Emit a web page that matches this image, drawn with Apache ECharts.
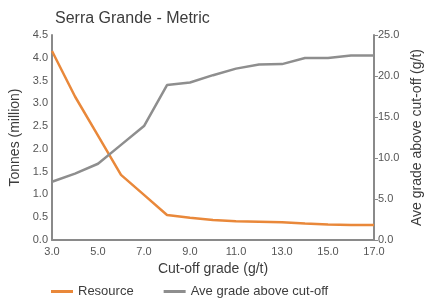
<!DOCTYPE html>
<html><head><meta charset="utf-8">
<script src="https://cdn.jsdelivr.net/npm/echarts@6/dist/echarts.min.js"></script>
<style>html,body{margin:0;padding:0;background:#fff}#c{width:425px;height:299px}</style>
</head><body><div id="c"></div>
<script>
var cutoff = ['3.0','4.0','5.0','6.0','7.0','8.0','9.0','10.0','11.0','12.0','13.0','14.0','15.0','16.0','17.0'];
var resource = [4.15, 3.15, 2.29, 1.43, 0.99, 0.55, 0.49, 0.44, 0.41, 0.40, 0.39, 0.36, 0.34, 0.33, 0.33];
var aveGrade = [7.1, 8.1, 9.3, 11.6, 13.9, 18.9, 19.2, 20.1, 20.9, 21.4, 21.45, 22.2, 22.2, 22.5, 22.5];
var leftTicks = {min: 0, max: 4.5, interval: 0.5};
var rightTicks = {min: 0, max: 25, interval: 5};

var font = 'Liberation Sans, Arial, Helvetica, sans-serif';
var chart = echarts.init(document.getElementById('c'), null, {renderer: 'canvas'});
chart.setOption({
  animation: false,
  textStyle: {fontFamily: font},
  title: {text: 'Serra Grande - Metric', left: 50, top: 6,
    textStyle: {fontFamily: font, fontSize: 16, fontWeight: 'normal', color: '#3c3c3c'}},
  grid: {left: 52, right: 51, top: 35, bottom: 59, containLabel: false, outerBoundsMode: 'none'},
  legend: {left: 46, top: 280, itemWidth: 22, itemHeight: 3, itemGap: 30, icon: 'rect',
    textStyle: {fontFamily: font, fontSize: 13, color: '#3c3c3c'},
    data: ['Resource', 'Ave grade above cut-off']},
  xAxis: {type: 'category', data: cutoff, boundaryGap: false,
    name: 'Cut-off grade (g/t)', nameLocation: 'middle', nameGap: 22,
    nameTextStyle: {fontFamily: font, fontSize: 14, color: '#3c3c3c'},
    axisLine: {lineStyle: {color: '#8a8a8a', width: 2}},
    axisTick: {show: false},
    axisLabel: {interval: 1, fontSize: 11, color: '#555', margin: 6, fontFamily: font},
    splitLine: {show: false}},
  yAxis: [
    {type: 'value', min: leftTicks.min, max: leftTicks.max, interval: leftTicks.interval,
      name: 'Tonnes (million)', nameLocation: 'middle', nameGap: 17,
      nameTextStyle: {fontFamily: font, fontSize: 14, color: '#3c3c3c'},
      axisLine: {show: true, lineStyle: {color: '#8a8a8a', width: 2}},
      axisTick: {show: false},
      axisLabel: {fontSize: 11, color: '#555', margin: 4, fontFamily: font,
        formatter: function (v) { return v.toFixed(1); }},
      splitLine: {show: false}},
    {type: 'value', min: rightTicks.min, max: rightTicks.max, interval: rightTicks.interval,
      position: 'right',
      name: 'Ave grade above cut-off (g/t)', nameLocation: 'middle', nameGap: 36, nameRotate: 90,
      nameTextStyle: {fontFamily: font, fontSize: 14, color: '#3c3c3c'},
      axisLine: {show: true, lineStyle: {color: '#8a8a8a', width: 2}},
      axisTick: {show: true, length: 4, lineStyle: {color: '#8a8a8a'}},
      axisLabel: {fontSize: 11, color: '#555', margin: 4, fontFamily: font,
        formatter: function (v) { return v.toFixed(1); }},
      splitLine: {show: false}}
  ],
  series: [
    {name: 'Resource', type: 'line', yAxisIndex: 0, data: resource, symbol: 'none',
      lineStyle: {color: '#E9883A', width: 2.5}, itemStyle: {color: '#E9883A'}},
    {name: 'Ave grade above cut-off', type: 'line', yAxisIndex: 1, data: aveGrade, symbol: 'none',
      lineStyle: {color: '#8e8e8e', width: 2.5}, itemStyle: {color: '#8e8e8e'}}
  ]
});
</script></body></html>
